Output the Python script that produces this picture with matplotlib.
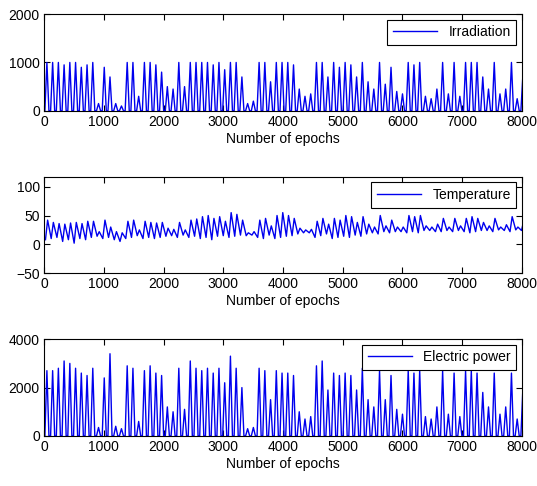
import numpy as np
from matplotlib import pyplot as plt

plt.rcParams['font.family'] = ['Liberation Sans', 'DejaVu Sans']

# Daily readings, one value per day (96 epochs per day).
samples_per_day = 96

irradiation_peak = [
    1000, 1000, 1000, 950, 1000, 1000, 900, 950, 1000, 150,
    900, 700, 150, 100, 1000, 1000, 300, 1000, 1000, 950,
    800, 500, 450, 1000, 500, 1000, 1000, 1000, 1000, 950,
    1000, 850, 1000, 1000, 700, 150, 200, 1000, 1000, 600,
    1000, 1000, 1000, 950, 450, 300, 350, 1000, 1000, 700,
    1000, 900, 1000, 950, 700, 1000, 600, 450, 1000, 550,
    900, 400, 350, 1000, 950, 1000, 300, 250, 450, 1000,
    350, 1000, 300, 1000, 1000, 1000, 700, 450, 1000, 350,
    450, 1000, 250, 750,
]

temperature_min = [
    8, 10, 12, 5, 8, 2, 10, 8, 12, 14,
    10, 12, 8, 5, 10, 12, 15, 10, 12, 10,
    12, 14, 15, 12, 16, 12, 14, 10, 12, 8,
    14, 15, 12, 14, 16, 15, 16, 12, 10, 16,
    10, 12, 14, 15, 18, 20, 20, 12, 15, 18,
    10, 12, 14, 12, 16, 14, 18, 20, 18, 22,
    20, 22, 22, 20, 22, 20, 24, 24, 22, 22,
    24, 22, 24, 22, 20, 22, 24, 24, 22, 25,
    24, 22, 25, 24,
]
temperature_max = [
    42, 38, 36, 35, 37, 38, 36, 40, 40, 22,
    42, 30, 22, 20, 40, 42, 25, 40, 38, 37,
    38, 28, 26, 38, 25, 42, 44, 48, 50, 45,
    48, 40, 55, 52, 42, 20, 22, 42, 45, 32,
    50, 55, 50, 45, 28, 25, 26, 40, 45, 35,
    45, 42, 50, 48, 38, 48, 35, 30, 50, 32,
    42, 30, 30, 50, 48, 50, 32, 30, 35, 45,
    30, 45, 32, 45, 48, 45, 38, 32, 45, 30,
    34, 48, 30, 40,
]

power_peak = [
    2700, 2700, 2800, 3100, 3000, 2800, 2600, 2500, 2800, 350,
    2400, 3400, 400, 300, 2900, 2800, 600, 2700, 2900, 2600,
    2500, 1200, 1000, 2800, 1100, 3100, 2800, 2700, 2800, 2600,
    2800, 2200, 3300, 2800, 2000, 300, 350, 2800, 2700, 1500,
    2700, 2600, 2600, 2500, 1000, 700, 800, 2900, 3100, 1900,
    2600, 2500, 2600, 2500, 1900, 2800, 1500, 1200, 2700, 1500,
    2500, 1100, 900, 2700, 2600, 2700, 800, 700, 1200, 2700,
    900, 2600, 800, 2700, 2700, 2600, 1800, 1200, 2600, 900,
    1200, 2600, 700, 2000,
]

days = np.arange(len(irradiation_peak))
day_start = days * samples_per_day


def daylight_series(peaks):
    # zero at sunrise and sunset, peak at noon
    x = np.column_stack([day_start + 14, day_start + 48, day_start + 82]).ravel()
    y = np.column_stack([np.zeros(len(peaks)), peaks, np.zeros(len(peaks))]).ravel()
    return x, y


def min_max_series(lows, highs):
    x = np.column_stack([day_start + 24, day_start + 60]).ravel()
    y = np.column_stack([lows, highs]).ravel()
    return x, y


fig = plt.figure(figsize=(5.37, 4.86), dpi=100)
panels = [
    ([0.082, 0.772, 0.890, 0.199], daylight_series(irradiation_peak),
     'Irradiation', (0, 2000), [0, 1000, 2000]),
    ([0.082, 0.438, 0.890, 0.198], min_max_series(temperature_min, temperature_max),
     'Temperature', (-50, 117), [-50, 0, 50, 100]),
    ([0.082, 0.103, 0.890, 0.199], daylight_series(power_peak),
     'Electric power', (0, 4000), [0, 2000, 4000]),
]

for rect, (x, y), label, ylim, yticks in panels:
    ax = fig.add_axes(rect)
    ax.plot(x, y, color='#0000ee', linewidth=1.0, label=label)
    ax.set_xlim(0, 8000)
    ax.set_ylim(*ylim)
    ax.set_xticks(range(0, 8001, 1000))
    ax.set_yticks(yticks)
    ax.tick_params(direction='in', top=True, right=True, length=4,
                   labelsize=10, pad=3)
    ax.set_xlabel('Number of epochs', fontsize=10, labelpad=2)
    leg = ax.legend(loc='upper right', fancybox=False, edgecolor='black',
                    framealpha=1, fontsize=10, handlelength=3.2,
                    borderaxespad=0.4, borderpad=0.4)
    leg.get_frame().set_linewidth(0.8)

plt.savefig('out.png', dpi=100)
